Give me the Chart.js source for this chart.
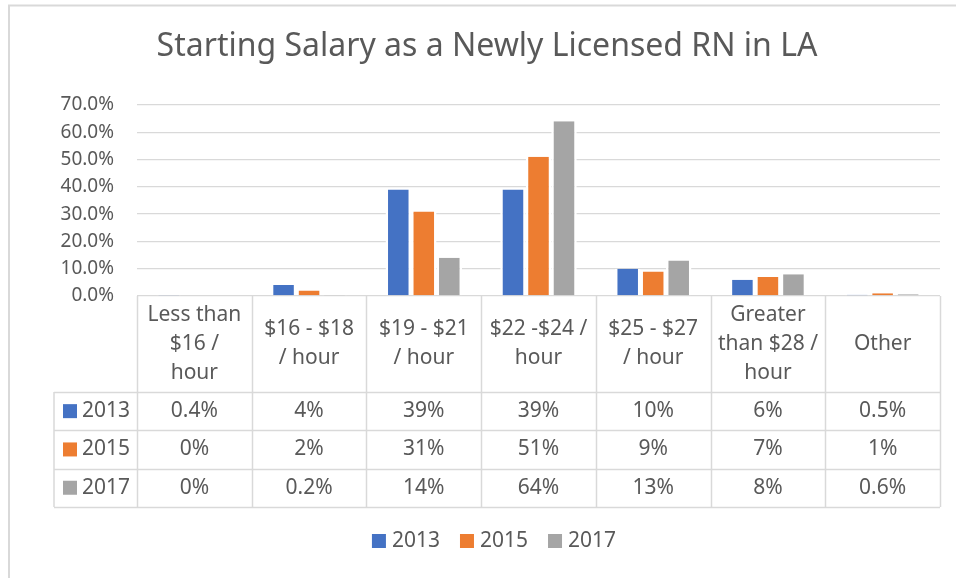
<!DOCTYPE html>
<html>
<head>
<meta charset="utf-8">
<script src="https://cdn.jsdelivr.net/npm/chart.js@4"></script>
<style>
  html, body { margin: 0; padding: 0; background: #fff; }
  #wrap { width: 956px; height: 578px; }
</style>
</head>
<body>
<div id="wrap"><canvas id="salary-chart" width="956" height="578"></canvas></div>
<script>
// chart data
const chartTitle = 'Starting Salary as a Newly Licensed RN in LA';
const categories = [
  ['Less than', '$16 /', 'hour'],
  ['$16 - $18', '/ hour'],
  ['$19 - $21', '/ hour'],
  ['$22 -$24 /', 'hour'],
  ['$25 - $27', '/ hour'],
  ['Greater', 'than $28 /', 'hour'],
  ['Other']
];
const seriesNames = ['2013', '2015', '2017'];
const values2013 = [0.4, 4, 39, 39, 10, 6, 0.5];
const values2015 = [0, 2, 31, 51, 9, 7, 1];
const values2017 = [0, 0.2, 14, 64, 13, 8, 0.6];
const yTicks = [0, 10, 20, 30, 40, 50, 60, 70];
const seriesColors = ['#4472C4', '#ED7D31', '#A5A5A5'];

const FONT = "'Noto Sans', 'Open Sans', sans-serif";
const TEXT = '#595959';
const LINE = '#d9d9d9';

// outer frame of the chart object (only top and left edges show) and the title
const framePlugin = {
  id: 'frame',
  beforeDraw(chart) {
    const ctx = chart.ctx;
    ctx.save();
    ctx.strokeStyle = LINE;
    ctx.lineWidth = 2;
    ctx.beginPath();
    ctx.moveTo(9, chart.height);
    ctx.lineTo(9, 5.5);
    ctx.lineTo(chart.width, 5.5);
    ctx.stroke();

    ctx.fillStyle = TEXT;
    ctx.font = '32px ' + FONT;
    ctx.textAlign = 'center';
    ctx.textBaseline = 'middle';
    ctx.fillText(chartTitle, 487, 47);
    ctx.restore();
  }
};

// data table under the plot area, plus the legend row below it
const tablePlugin = {
  id: 'dataTable',
  afterDraw(chart) {
    const ctx = chart.ctx;
    const area = chart.chartArea;
    const xs = chart.scales.x;
    const n = categories.length;
    const colW = (area.right - area.left) / n;
    const top = area.bottom;
    const headBottom = top + 96;
    const rowH = 38.3;
    const tableBottom = headBottom + rowH * seriesNames.length;
    const labelLeft = 54;
    const rows = [values2013, values2015, values2017];

    ctx.save();
    ctx.strokeStyle = LINE;
    ctx.lineWidth = 1.5;
    ctx.beginPath();
    for (let i = 0; i <= n; i++) {
      const x = Math.round(area.left + i * colW) + 0.5;
      ctx.moveTo(x, top);
      ctx.lineTo(x, tableBottom);
    }
    ctx.moveTo(labelLeft, headBottom);
    ctx.lineTo(labelLeft, tableBottom);
    for (let r = 0; r <= seriesNames.length; r++) {
      const y = Math.round(headBottom + r * rowH) + 0.5;
      ctx.moveTo(labelLeft, y);
      ctx.lineTo(area.right, y);
    }
    ctx.stroke();

    ctx.fillStyle = TEXT;
    ctx.textBaseline = 'middle';
    ctx.textAlign = 'center';
    ctx.font = '21px ' + FONT;

    // header labels
    const headMid = (top + headBottom) / 2;
    categories.forEach((lines, i) => {
      const cx = xs.getPixelForValue(i);
      const start = headMid - (lines.length - 1) * 29 / 2;
      lines.forEach((t, k) => ctx.fillText(t, cx, start + k * 29));
    });

    // rows
    rows.forEach((vals, r) => {
      const cy = headBottom + r * rowH + rowH / 2;
      ctx.fillStyle = seriesColors[r];
      ctx.fillRect(63, cy - 7, 14, 14);
      ctx.fillStyle = TEXT;
      ctx.textAlign = 'left';
      ctx.fillText(seriesNames[r], 82, cy);
      ctx.textAlign = 'center';
      vals.forEach((v, i) => {
        ctx.fillText(v + '%', xs.getPixelForValue(i), cy);
      });
    });

    // legend
    const legendY = 541;
    const widths = seriesNames.map(s => 14 + 6 + ctx.measureText(s).width);
    const gap = 20;
    const total = widths.reduce((a, b) => a + b, 0) + gap * (widths.length - 1);
    let lx = 494 - total / 2;
    ctx.textAlign = 'left';
    seriesNames.forEach((s, i) => {
      ctx.fillStyle = seriesColors[i];
      ctx.fillRect(lx, legendY - 7, 14, 14);
      ctx.fillStyle = TEXT;
      ctx.fillText(s, lx + 20, legendY);
      lx += widths[i] + gap;
    });
    ctx.restore();
  }
};

const makeDataset = (label, data, color) => ({
  label,
  data,
  backgroundColor: color,
  borderColor: '#ffffff',
  borderWidth: { left: 2.5, right: 2.5, top: 0, bottom: 0 },
  borderSkipped: false,
  categoryPercentage: 0.667,
  barPercentage: 1
});

new Chart(document.getElementById('salary-chart').getContext('2d'), {
  type: 'bar',
  data: {
    labels: categories,
    datasets: [
      makeDataset(seriesNames[0], values2013, seriesColors[0]),
      makeDataset(seriesNames[1], values2015, seriesColors[1]),
      makeDataset(seriesNames[2], values2017, seriesColors[2])
    ]
  },
  options: {
    responsive: false,
    animation: false,
    layout: { padding: { left: 0, right: 16, top: 105, bottom: 71 } },
    scales: {
      x: {
        ticks: { display: false },
        grid: { display: false },
        border: { display: false },
        afterFit: (scale) => { scale.height = 211; }
      },
      y: {
        min: yTicks[0],
        max: yTicks[yTicks.length - 1],
        afterBuildTicks: (scale) => { scale.ticks = yTicks.map(v => ({ value: v })); },
        ticks: {
          color: TEXT,
          padding: 23,
          font: { family: FONT, size: 19 },
          callback: (v) => v.toFixed(1) + '%'
        },
        grid: { color: LINE, lineWidth: 1.3, drawTicks: false },
        border: { display: false },
        afterFit: (scale) => { scale.width = 137; }
      }
    },
    plugins: {
      title: { display: false },
      legend: { display: false },
      tooltip: { enabled: false }
    }
  },
  plugins: [framePlugin, tablePlugin]
});
</script>
</body>
</html>
